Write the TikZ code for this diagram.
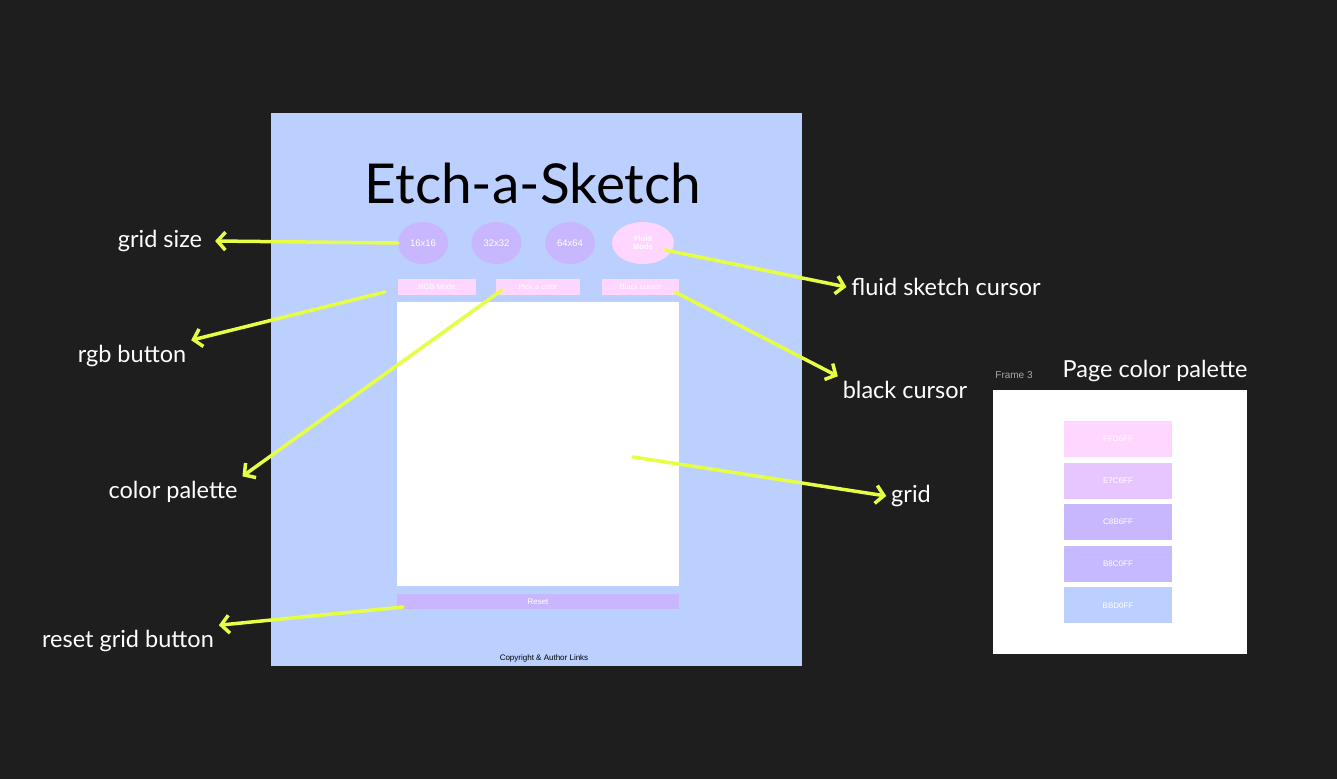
\documentclass[tikz,border=0pt]{standalone}
\usepackage{fontspec}
\setmainfont{Liberation Sans}
\newfontfamily\handfont{Lato}
\usetikzlibrary{positioning,arrows.meta,shapes.geometric}

\definecolor{bgdark}{HTML}{1E1E1E}
\definecolor{pageblue}{HTML}{BBD0FF}
\definecolor{btnpink}{HTML}{FFD6FF}
\definecolor{btnlilac}{HTML}{C8B6FF}
\definecolor{hilite}{HTML}{E6FF45}

\begin{document}
\begin{tikzpicture}[x=1pt,y=-1pt,
		every node/.style={inner sep=0pt,outer sep=0pt},
		note/.style={font=\handfont\fontsize{23.5}{26}\selectfont,text=white,inner sep=5pt},
		pointer/.style={draw=hilite,line width=3.5pt,line cap=round,-{Straight Barb[length=8pt,width=18pt,line width=3.5pt]}},
		sizebtn/.style={ellipse,fill=btnlilac,minimum width=50pt,minimum height=42pt,text=white,font=\fontsize{9.5}{10}\selectfont},
		modebtn/.style={fill=btnpink,minimum height=16pt,text=white,font=\fontsize{7.5}{8}\selectfont},
		swatch/.style={fill=#1,minimum width=108pt,minimum height=36pt,text=white,font=\fontsize{8}{9}\selectfont}
	]
	% background and page
	\fill[bgdark] (0,0) rectangle (1337,779);
	\fill[pageblue] (271,113) rectangle (802,666);
	\node[font=\handfont\fontsize{55}{60}\selectfont] (title) at (533,183) {Etch-a-Sketch};

	% grid size buttons
	\foreach \lbl[count=\i] in {16x16,32x32,64x64}{ \node[sizebtn] (size\i) at (423+73.5*\i-73.5,243) {\lbl};}
	\node[sizebtn,fill=btnpink,minimum width=62pt,font=\bfseries\fontsize{7.5}{8.5}\selectfont,align=center] (fluid) at (643,243) {Fluid\\Mode};

	% mode buttons, grid, reset
	\node[modebtn,minimum width=78pt] (rgb) at (437,287) {RGB Mode};
	\node[modebtn,minimum width=84pt] (pick) at (538,287) {Pick a color};
	\node[modebtn,minimum width=77pt] (black) at (640.5,287) {Black cursor};
	\node[fill=white,minimum width=282pt,minimum height=284pt] (grid) at (538,444) {};
	\node[fill=btnlilac,minimum width=282pt,minimum height=15pt,text=white,font=\fontsize{8}{9}\selectfont] (reset) at (538,601.5) {Reset};
	\node[font=\fontsize{8}{9}\selectfont] (copy) at (544,658) {Copyright \& Author Links};

	% palette frame
	\node[text=gray!70,font=\fontsize{10}{12}\selectfont] (framelbl) at (1014,375) {Frame 3};
	\node[note] (pagelbl) at (1155,371) {Page color palette};
	\node[fill=white,minimum width=254pt,minimum height=264pt] (frame) at (1120,522) {};
	\foreach \hex/\tint[count=\i] in {FFD6FF/FFD6FF,E7C6FF/E7C6FF,C8B6FF/C8B6FF,B8C0FF/C6B9FF,BBD0FF/BBD0FF}{ \definecolor{sw\i}{HTML}{\tint} \node[swatch=sw\i] (sw\i) at (1118,439+41.6*\i-41.6) {\hex};}

	% labels
	\node[note] (lgrid) at (160,241) {grid size};
	\node[note] (lrgb) at (132,356) {rgb button};
	\node[note] (lpal) at (173,492) {color palette};
	\node[note] (lfluid) at (946,287) {fluid sketch cursor};
	\node[note] (lblack) at (905,390) {black cursor};
	\node[note] (lgridarea) at (911,496) {grid};
	\node[note] (lreset) at (128,641) {reset grid button};

	% pointer starts
	\coordinate (p1) at (398,243);
	\coordinate (p2) at (385,292);
	\coordinate (p3) at (502,290);
	\coordinate (p4) at (665,250);
	\coordinate (p5) at (675,292);
	\coordinate (p6) at (633,457);
	\coordinate (p7) at (403,607);

	\draw[pointer] (p1) -- ([xshift=8pt]lgrid.east);
	\draw[pointer] (p2) -- (lrgb.north east);
	\draw[pointer] (p3) -- (lpal.north east);
	\draw[pointer] (p4) -- (lfluid.west);
	\draw[pointer] (p5) -- (lblack.north west);
	\draw[pointer] (p6) -- (lgridarea.west);
	\draw[pointer] (p7) -- (lreset.north east);
\end{tikzpicture}
\end{document}
